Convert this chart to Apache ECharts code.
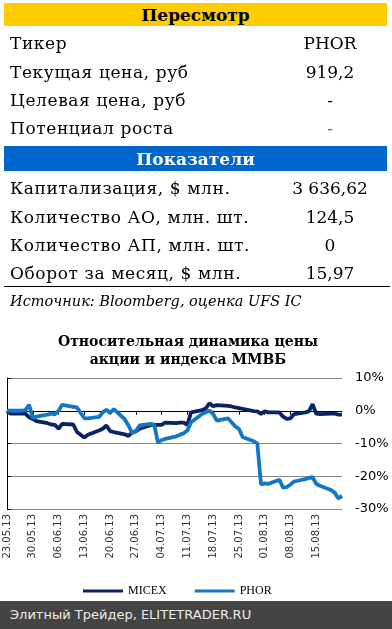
<!DOCTYPE html>
<html><head><meta charset="utf-8">
<script src="https://cdn.jsdelivr.net/npm/echarts@6/dist/echarts.min.js"></script>
<style>
html,body{margin:0;padding:0;background:#fff;width:392px;height:629px;overflow:hidden;position:relative;}
#chart{position:absolute;left:0;top:0;width:392px;height:629px;}
.abs{position:absolute;white-space:nowrap;}
.lbl{font-family:"DejaVu Serif",serif;font-size:17px;letter-spacing:0.6px;color:#000;left:10px;line-height:20px;}
.val{font-family:"DejaVu Serif",serif;font-size:17px;color:#000;left:280px;width:100px;text-align:center;line-height:20px;}
.bar{left:4px;width:383px;text-align:center;font-family:"DejaVu Serif",serif;font-weight:bold;font-size:17px;}
</style></head>
<body>
<div id="chart"></div>
<div class="abs bar" style="top:3px;height:23px;line-height:24px;background:#FFCC00;color:#000;">Пересмотр</div>
<div class="abs lbl" style="top:33px">Тикер</div><div class="abs val" style="top:33px">PHOR</div>
<div class="abs lbl" style="top:62px">Текущая цена, руб</div><div class="abs val" style="top:62px">919,2</div>
<div class="abs lbl" style="top:90px">Целевая цена, руб</div><div class="abs val" style="top:90px">-</div>
<div class="abs lbl" style="top:118px">Потенциал роста</div><div class="abs val" style="top:118px;color:#00A050">-</div>
<div class="abs bar" style="top:146px;height:25px;line-height:26px;background:#0066CC;color:#fff;">Показатели</div>
<div class="abs lbl" style="top:178px">Капитализация, $ млн.</div><div class="abs val" style="top:178px">3 636,62</div>
<div class="abs lbl" style="top:207px">Количество АО, млн. шт.</div><div class="abs val" style="top:207px">124,5</div>
<div class="abs lbl" style="top:235px">Количество АП, млн. шт.</div><div class="abs val" style="top:235px">0</div>
<div class="abs lbl" style="top:263px">Оборот за месяц, $ млн.</div><div class="abs val" style="top:263px">15,97</div>
<div class="abs" style="left:4px;top:286px;width:386px;height:1px;background:#000"></div>
<div class="abs" style="left:10px;top:291px;font-family:'DejaVu Serif',serif;font-style:italic;font-size:14.5px;line-height:20px;">Источник: Bloomberg, оценка UFS IC</div>
<div class="abs" style="left:0;top:601px;width:392px;height:28px;background:#444444;color:#ececec;font-family:'DejaVu Sans',sans-serif;font-size:13px;line-height:28px;"><span style="padding-left:10px">Элитный Трейдер, ELITETRADER.RU</span></div>
<script>
var dates = ["23.05.13","24.05.13","27.05.13","28.05.13","29.05.13","30.05.13","31.05.13",
"03.06.13","04.06.13","05.06.13","06.06.13","07.06.13","10.06.13","11.06.13","13.06.13","14.06.13","17.06.13","18.06.13","19.06.13","20.06.13","21.06.13","24.06.13","25.06.13","26.06.13","27.06.13","28.06.13",
"01.07.13","02.07.13","03.07.13","04.07.13","05.07.13","08.07.13","09.07.13","10.07.13","11.07.13","12.07.13","15.07.13","16.07.13","17.07.13","18.07.13","19.07.13","22.07.13","23.07.13","24.07.13","25.07.13","26.07.13","29.07.13","30.07.13","31.07.13",
"01.08.13","02.08.13","05.08.13","06.08.13","07.08.13","08.08.13","09.08.13","12.08.13","13.08.13","14.08.13","15.08.13","16.08.13","19.08.13","20.08.13","21.08.13","22.08.13"];
// MICEX relative change, %
var micex = [0,-0.9,-0.9,-0.9,-2.0,-2.5,-3.2,
-3.8,-4.2,-4.3,-5.5,-4.0,-4.2,-6.5,-8.2,-7.3,-6.0,-5.5,-4.5,-6.2,-6.5,-7.2,-7.7,-6.6,-6.3,-5.5,
-4.4,-4.3,-4.3,-4.3,-3.6,-3.8,-3.6,-3.6,-4.3,-0.5,0.2,0.7,2.3,1.4,1.7,1.5,1.3,1.0,0.8,0.6,-0.1,-0.2,-1.0,
-0.2,-0.5,-0.5,-1.8,-2.5,-2.3,-1.0,-0.5,-0.2,2.0,-0.9,-1.0,-0.9,-0.8,-1.2,-1.2];
// PHOR relative change, %
var phor = [0,0,0,0.2,1.8,-2.2,-1.8,
-1.2,-0.9,-1.1,0.0,1.8,1.2,1.0,-2.3,-2.3,-1.9,-0.5,0.3,-0.7,0.5,-2.6,-4.5,-6.8,-6.2,-4.5,
-4.0,-4.2,-9.7,-9.0,-8.6,-7.8,-7.3,-6.9,-6.0,-3.5,-1.0,-0.5,0.0,-1.0,-3.0,-2.3,-3.5,-4.8,-5.5,-8.0,-9.3,-10.0,-22.5,
-22.2,-22.3,-21.1,-23.5,-23.3,-22.5,-21.6,-20.9,-20.5,-20.3,-22.3,-22.9,-24.2,-25.0,-26.8,-26.0];
var yTicks = [-30,-20,-10,0,10];
var seriesNames = ["MICEX","PHOR"];
var titleLines = ["Относительная динамика цены","акции и индекса ММВБ"];

function parseD(s){var p=s.split(".");return Date.UTC(2000+ +p[2], +p[1]-1, +p[0]);}
var base = parseD(dates[0]);
function dayOf(s){return Math.round((parseD(s)-base)/86400000);}
function fmt(v){var d=new Date(base+v*86400000);function z(n){return (n<10?"0":"")+n;}
  return z(d.getUTCDate())+"."+z(d.getUTCMonth()+1)+"."+String(d.getUTCFullYear()).slice(2);}
var lastDay = dayOf(dates[dates.length-1]);
function pts(arr){return dates.map(function(d,i){return [dayOf(d),arr[i]];});}

var titleEls = titleLines.map(function(t,i){
  return {type:'text',x:188,y:342+i*18,style:{text:t,align:'center',textAlign:'center',verticalAlign:'middle',textVerticalAlign:'middle',
    font:'bold 14px "DejaVu Serif", serif',fill:'#000'}};
});

var chart = echarts.init(document.getElementById('chart'),null,{renderer:'canvas'});
chart.setOption({
  animation:false,
  graphic:titleEls,
  legend:{left:78,top:580,icon:'rect',itemWidth:40,itemHeight:3,itemGap:28,
    textStyle:{fontFamily:'Liberation Serif',fontSize:12,color:'#000'},data:seriesNames},
  grid:{left:7,right:50,top:378,height:131,containLabel:false},
  xAxis:{type:'value',min:0,max:lastDay,interval:7,
    axisLine:{show:true,lineStyle:{color:'#000',width:1}},
    axisTick:{show:true,length:4,lineStyle:{color:'#000'}},
    splitLine:{show:false},
    axisLabel:{rotate:90,margin:5,showMaxLabel:false,fontFamily:'DejaVu Sans',fontSize:10,color:'#333',formatter:fmt}},
  yAxis:{type:'value',position:'right',min:yTicks[0],max:yTicks[yTicks.length-1],interval:10,
    axisLine:{show:true,lineStyle:{color:'#000',width:1}},
    axisTick:{show:true,length:4,lineStyle:{color:'#000'}},
    splitLine:{show:true,lineStyle:{color:'#868686',width:1}},
    axisLabel:{margin:13,fontFamily:'DejaVu Sans',fontSize:13,color:'#000',formatter:function(v){return v+'%';}}},
  series:[
    {name:seriesNames[0],type:'line',data:pts(micex),showSymbol:false,lineStyle:{width:3.8,color:'#0A2463'},itemStyle:{color:'#0A2463'}},
    {name:seriesNames[1],type:'line',data:pts(phor),showSymbol:false,lineStyle:{width:3.8,color:'#1476C6'},itemStyle:{color:'#1476C6'}}
  ]
});
</script>
</body></html>
